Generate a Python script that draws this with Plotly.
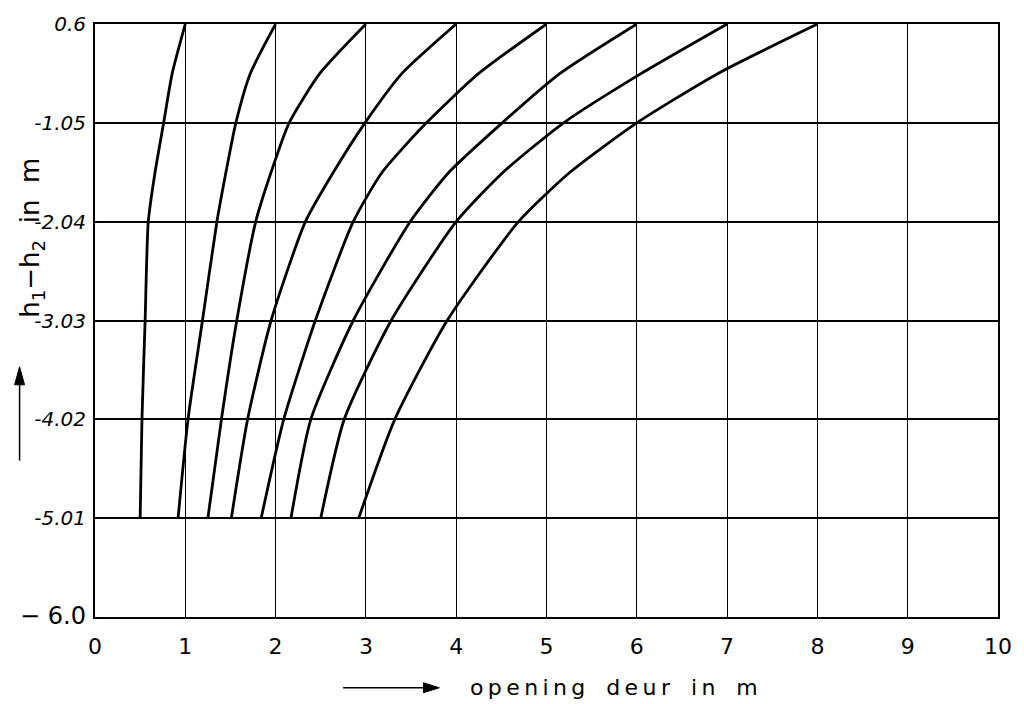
import plotly.graph_objects as go

# Head difference levels (m) at which each curve is sampled
head_levels = [0, -0.5, -1, -1.5, -2, -3, -4, -5]

# Door opening (m) per curve at each head level
opening_curves = [
    [1.0, 0.855, 0.76, 0.665, 0.59, 0.555, 0.52, 0.50],
    [2.0, 1.72, 1.56, 1.45, 1.35, 1.19, 1.03, 0.92],
    [3.0, 2.49, 2.15, 1.95, 1.78, 1.57, 1.40, 1.25],
    [4.0, 3.40, 2.99, 2.64, 2.33, 1.95, 1.69, 1.51],
    [5.0, 4.25, 3.67, 3.18, 2.86, 2.44, 2.09, 1.84],
    [6.0, 5.15, 4.51, 3.92, 3.49, 2.86, 2.39, 2.17],
    [7.0, 6.05, 5.19, 4.52, 4.00, 3.28, 2.76, 2.50],
    [8.0, 6.90, 6.00, 5.26, 4.69, 3.90, 3.32, 2.92],
]

x_ticks = list(range(0, 11))
y_tick_vals = [0, -1, -2, -3, -4, -5, -6]
y_tick_text = ["<i>0.6</i>", "<i>-1.05</i>", "<i>-2.04</i>", "<i>-3.03</i>",
               "<i>-4.02</i>", "<i>-5.01</i>",
               "<span style='font-size:24px'>− 6.0</span>"]

# plot area in pixels, used to place the decorations around the axes
L, R, T, B = 95, 1005, 22, 617


def px(xp, yp):
    return (xp - L) / (R - L), (B - yp) / (B - T)


fig = go.Figure()
for xs in opening_curves:
    fig.add_trace(go.Scatter(
        x=xs, y=head_levels, mode="lines",
        line=dict(color="black", width=2.8, shape="spline", smoothing=0.6),
        showlegend=False, hoverinfo="skip",
    ))

fig.update_xaxes(
    range=[0, 10], tickvals=x_ticks, ticktext=[str(v) for v in x_ticks],
    showgrid=True, gridcolor="black", gridwidth=1.2,
    showline=True, linecolor="black", linewidth=2, mirror=True,
    zeroline=False, ticks="", ticklabelstandoff=9,
    tickfont=dict(family="DejaVu Sans", size=22, color="black"),
)
fig.update_yaxes(
    range=[-6, 0], tickvals=y_tick_vals, ticktext=y_tick_text,
    showgrid=True, gridcolor="black", gridwidth=1.8,
    showline=True, linecolor="black", linewidth=2, mirror=True,
    zeroline=False, ticks="", ticklabelstandoff=3,
    tickfont=dict(family="DejaVu Sans", size=20, color="black"),
)

fig.add_annotation(
    text="h<sub>1</sub>−h<sub>2</sub>  in  m", textangle=-90,
    xref="paper", yref="paper", x=px(31, 0)[0], y=px(0, 236)[1], showarrow=False,
    xanchor="center", yanchor="middle",
    font=dict(family="DejaVu Sans", size=26, color="black"),
)
fig.add_annotation(
    text="o\u2009p\u2009e\u2009n\u2009i\u2009n\u2009g   d\u2009e\u2009u\u2009r   i\u2009n   m",
    xref="paper", yref="paper", x=px(618, 0)[0], y=px(0, 688)[1], showarrow=False,
    xanchor="center", yanchor="middle",
    font=dict(family="DejaVu Sans", size=22, color="black"),
)

# arrow beside the y title
x0, y0 = px(19, 460)
x1, y1 = px(19, 384)
fig.add_shape(type="line", xref="paper", yref="paper", x0=x0, y0=y0, x1=x1, y1=y1,
              line=dict(color="black", width=1.5))
hx_l, _ = px(14, 0)
hx_r, _ = px(24, 0)
_, hy_tip = px(0, 366)
fig.add_shape(type="path", xref="paper", yref="paper",
              path=f"M {hx_l},{y1} L {hx_r},{y1} L {x0},{hy_tip} Z",
              fillcolor="black", line=dict(color="black", width=1))

# arrow before the x title
ax0, ay0 = px(345, 688)
ax1, _ = px(426, 688)
fig.add_shape(type="line", xref="paper", yref="paper", x0=ax0, y0=ay0, x1=ax1, y1=ay0,
              line=dict(color="black", width=1.5))
_, hy_t = px(0, 683)
_, hy_b = px(0, 693)
tip_x, _ = px(442, 0)
fig.add_shape(type="path", xref="paper", yref="paper",
              path=f"M {ax1},{hy_t} L {ax1},{hy_b} L {tip_x},{ay0} Z",
              fillcolor="black", line=dict(color="black", width=1))

fig.update_layout(
    width=1024, height=704,
    margin=dict(l=L, r=1024 - R, t=T, b=704 - B),
    paper_bgcolor="white", plot_bgcolor="white",
)

fig.write_html("out.html")
